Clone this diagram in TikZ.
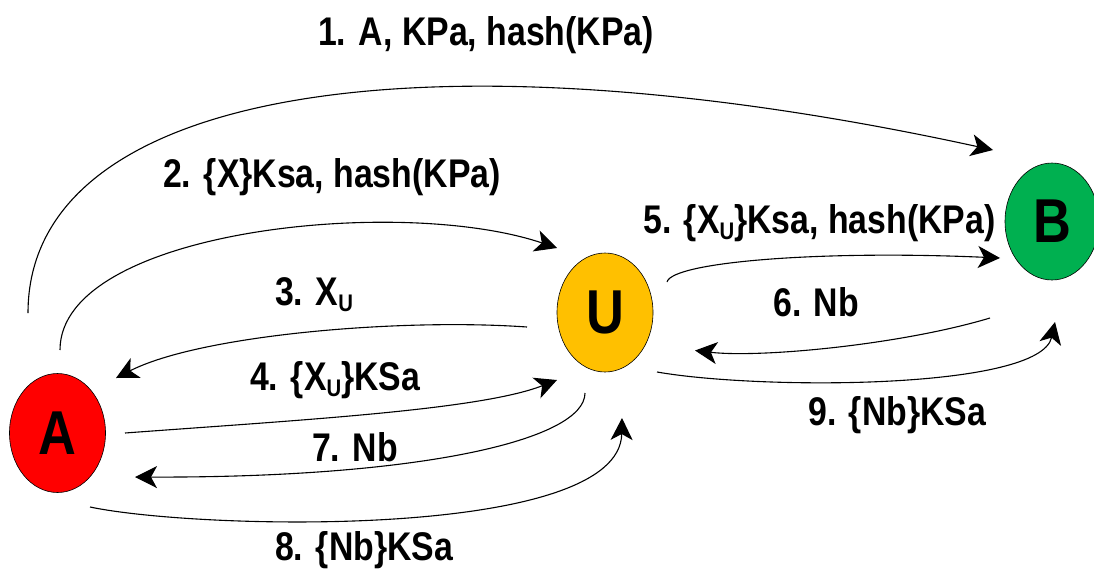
\documentclass[tikz,border=0pt]{standalone}
\usepackage{fontspec}
\setmainfont{Liberation Sans}[FakeStretch=0.845]
\usetikzlibrary{arrows.meta,shapes.geometric}
\definecolor{partyA}{HTML}{FF0000}
\definecolor{partyU}{HTML}{FFC000}
\definecolor{partyB}{HTML}{00B050}
\newcommand\subU{\raisebox{-6pt}{\fontsize{24}{24}\selectfont U}}
\begin{document}
\begin{tikzpicture}[x=1pt,y=-1pt,
  party/.style={ellipse, draw=black, line width=0.6pt, inner sep=0pt,
    minimum width=96pt, minimum height=119pt,
    font=\fontsize{62}{62}\selectfont\bfseries},
  msg/.style={-{Stealth[length=22pt,width=22pt,inset=6pt,fill=black]}, line width=1.1pt},
  lbl/.style={anchor=base west, inner sep=0pt,
    font=\fontsize{40}{40}\selectfont\bfseries}]
\useasboundingbox (0,0) rectangle (1094,571);

% parties
\node[party, fill=partyA] (A) at (57.5,433) {A};
\node[party, fill=partyU] (U) at (605,312.5) {U};
\node[party, fill=partyB, minimum width=94pt, minimum height=117pt] (B) at (1052,221.5) {B};

% messages
\draw[msg] ([shift={(-29.5,-120)}]A.center) .. controls (28,90) and (420,25) .. ([shift={(-59,-71.5)}]B.center);
\draw[msg] ([shift={(2.5,-83)}]A.center) .. controls (60,230) and (400,195) .. ([shift={(-48,-64.5)}]U.center);
\draw[msg] ([shift={(-78,14.5)}]U.center) .. controls (400,318) and (200,335) .. ([shift={(58.5,-55)}]A.center);
\draw[msg] ([shift={(67.5,0)}]A.center) .. controls (300,420) and (480,410) .. ([shift={(-48,67.5)}]U.center);
\draw[msg] ([shift={(62,-30.5)}]U.center) .. controls (672,262) and (820,250) .. ([shift={(-52,36.5)}]B.center);
\draw[msg] ([shift={(-62,96.5)}]B.center) .. controls (900,345) and (760,358) .. ([shift={(90,38)}]U.center);
\draw[msg] ([shift={(-20,80.5)}]U.center) .. controls (585,440) and (420,478) .. ([shift={(77.5,44)}]A.center);
\draw[msg] ([shift={(32.5,74)}]A.center) .. controls (200,530) and (620,540) .. ([shift={(17,105.5)}]U.center);
\draw[msg] ([shift={(52,59.5)}]U.center) .. controls (760,390) and (1040,390) .. ([shift={(3,100.5)}]B.center);

% message labels
\node[lbl] (l1) at (318,45) {1. A, KPa, hash(KPa)};
\node[lbl] (l2) at (163,187) {2. \{X\}Ksa, hash(KPa)};
\node[lbl] (l3) at (275,305) {3. X\subU};
\node[lbl] (l4) at (250,390) {4. \{X\subU\}KSa};
\node[lbl] (l5) at (643,233) {5. \{X\subU\}Ksa, hash(KPa)};
\node[lbl] (l6) at (773,316) {6. Nb};
\node[lbl] (l7) at (312,461) {7. Nb};
\node[lbl] (l8) at (275,560) {8. \{Nb\}KSa};
\node[lbl] (l9) at (808,425) {9. \{Nb\}KSa};
\end{tikzpicture}
\end{document}
